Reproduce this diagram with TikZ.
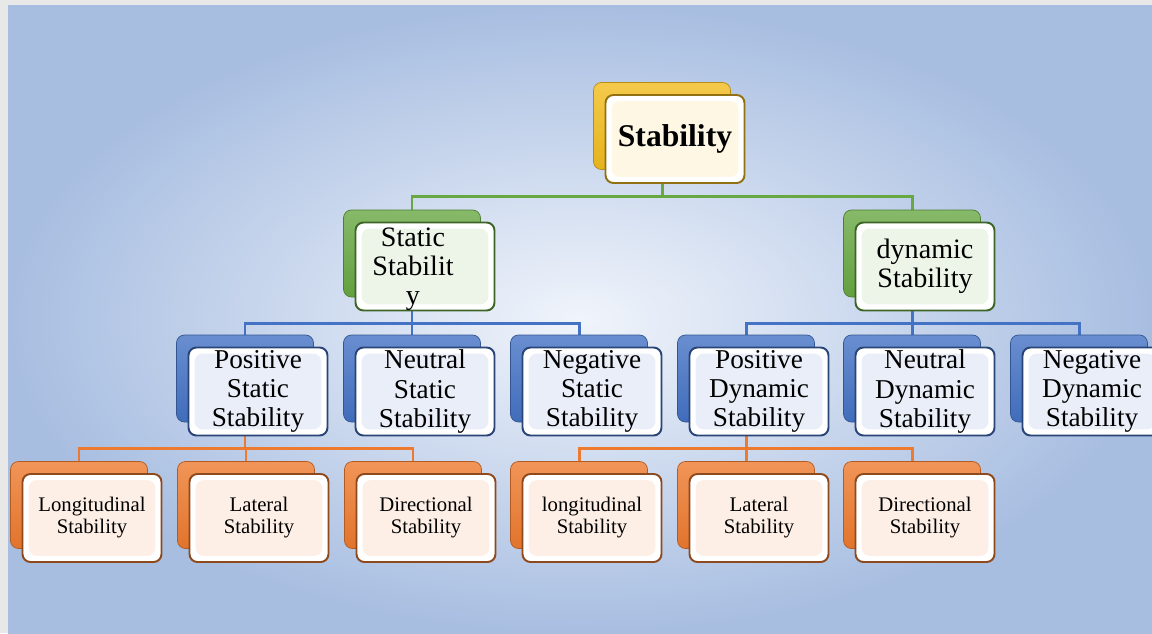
\documentclass[tikz,border=0pt]{standalone}
\usepackage{fontspec}
\setmainfont{Liberation Serif}
\usepackage{xcolor}
\definecolor{GoldC}{HTML}{F2BC1E}
\definecolor{GreenC}{HTML}{68A843}
\definecolor{BlueC}{HTML}{4472C4}
\definecolor{OrangeC}{HTML}{ED7A2E}
\definecolor{BgIn}{HTML}{F0F4FB}
\definecolor{BgOut}{HTML}{A8BEE1}
\usepackage{tikz}
\usetikzlibrary{calc}
\pgfdeclarelayer{pane}
\pgfdeclarelayer{links}
\pgfsetlayers{pane,links,main}
\newcommand\rootfont{\fontsize{18}{20}\selectfont\bfseries}
\newcommand\midfont{\fontsize{16}{16.5}\selectfont}
\newcommand\kindfont{\fontsize{15.5}{16.7}\selectfont}
\newcommand\leaffont{\fontsize{11.8}{12.5}\selectfont}

\begin{document}
\begin{tikzpicture}[
  x=0.02cm, y=-0.02cm,
  shell/.style={rounded corners=4.5pt, minimum width=2.74cm, minimum height=1.74cm,
                inner sep=0pt, draw=#1!75!black, top color=#1!80!white, bottom color=#1!95!black},
  face/.style={rounded corners=4.5pt, minimum width=2.78cm, minimum height=1.76cm,
               inner sep=0pt, align=center, draw=#1!60!black, line width=1.1pt, fill=white,
               path picture={\fill[#1!12!white]
                 ([shift={(3.5pt,-3.5pt)}]path picture bounding box.north west) rectangle
                 ([shift={(-3.5pt,3.5pt)}]path picture bounding box.south east);}},
  link/.style={line width=1.7pt, draw=#1}
]
  \useasboundingbox (0,0) rectangle (1152,633);
  \begin{pgfonlayer}{pane}
    \fill[black!9] (0,0) rectangle (1152,633);
    \shade[inner color=BgIn, outer color=BgOut] (8,5) rectangle (1152,633);
  \end{pgfonlayer}

  % top
  \node[shell=GoldC] (rootb) at (662,126) {};
  \node[face=GoldC, font=\rootfont] (root) at ([shift={(13,13)}]rootb.center) {Stability};

  % static / dynamic
  \node[shell=GreenC] (stb) at (412,253.5) {};
  \node[face=GreenC] (st) at ([shift={(13,13)}]stb.center) {};
  \node[font=\midfont, align=center] (st-txt) at ([shift={(-12,3)}]st.center) {Static\\Stabilit\\y};
  \node[shell=GreenC] (dyb) at (912,253.5) {};
  \node[face=GreenC, font=\midfont] (dy) at ([shift={(13,13)}]dyb.center) {dynamic\\Stability};

  % kinds
  \node[shell=BlueC] (pssb) at (245,378.5) {};
  \node[face=BlueC, font=\kindfont] (pss) at ([shift={(13,13)}]pssb.center) {Positive\\Static\\Stability};
  \node[shell=BlueC] (nssb) at (412,378.5) {};
  \node[face=BlueC, font=\kindfont] (nss) at ([shift={(13,13)}]nssb.center) {Neutral\\Static\\Stability};
  \node[shell=BlueC] (ngsb) at (579,378.5) {};
  \node[face=BlueC, font=\kindfont] (ngs) at ([shift={(13,13)}]ngsb.center) {Negative\\Static\\Stability};
  \node[shell=BlueC] (pdsb) at (746,378.5) {};
  \node[face=BlueC, font=\kindfont] (pds) at ([shift={(13,13)}]pdsb.center) {Positive\\Dynamic\\Stability};
  \node[shell=BlueC] (ndsb) at (912,378.5) {};
  \node[face=BlueC, font=\kindfont] (nds) at ([shift={(13,13)}]ndsb.center) {Neutral\\Dynamic\\Stability};
  \node[shell=BlueC] (ngdb) at (1079,378.5) {};
  \node[face=BlueC, font=\kindfont] (ngd) at ([shift={(13,13)}]ngdb.center) {Negative\\Dynamic\\Stability};

  % axes
  \node[shell=OrangeC] (lon1b) at (79,505) {};
  \node[face=OrangeC, font=\leaffont] (lon1) at ([shift={(13,13)}]lon1b.center) {Longitudinal\\Stability};
  \node[shell=OrangeC] (lat1b) at (246,505) {};
  \node[face=OrangeC, font=\leaffont] (lat1) at ([shift={(13,13)}]lat1b.center) {Lateral\\Stability};
  \node[shell=OrangeC] (dir1b) at (413,505) {};
  \node[face=OrangeC, font=\leaffont] (dir1) at ([shift={(13,13)}]dir1b.center) {Directional\\Stability};
  \node[shell=OrangeC] (lon2b) at (579,505) {};
  \node[face=OrangeC, font=\leaffont] (lon2) at ([shift={(13,13)}]lon2b.center) {longitudinal\\Stability};
  \node[shell=OrangeC] (lat2b) at (746,505) {};
  \node[face=OrangeC, font=\leaffont] (lat2) at ([shift={(13,13)}]lat2b.center) {Lateral\\Stability};
  \node[shell=OrangeC] (dir2b) at (912,505) {};
  \node[face=OrangeC, font=\leaffont] (dir2) at ([shift={(13,13)}]dir2b.center) {Directional\\Stability};

  \begin{pgfonlayer}{links}
    \foreach \kid in {stb,dyb}
      \draw[link=GreenC] (rootb) |- ($(root.south)!.5!(\kid.north)$) -| (\kid);
    \foreach \kid in {pssb,nssb,ngsb}
      \draw[link=BlueC] (stb) |- ($(st.south)!.5!(\kid.north)$) -| (\kid);
    \foreach \kid in {pdsb,ndsb,ngdb}
      \draw[link=BlueC] (dyb) |- ($(dy.south)!.5!(\kid.north)$) -| (\kid);
    \foreach \kid in {lon1b,lat1b,dir1b}
      \draw[link=OrangeC] (pssb) |- ($(pss.south)!.5!(\kid.north)$) -| (\kid);
    \foreach \kid in {lon2b,lat2b,dir2b}
      \draw[link=OrangeC] (pdsb) |- ($(pds.south)!.5!(\kid.north)$) -| (\kid);
  \end{pgfonlayer}
\end{tikzpicture}
\end{document}
